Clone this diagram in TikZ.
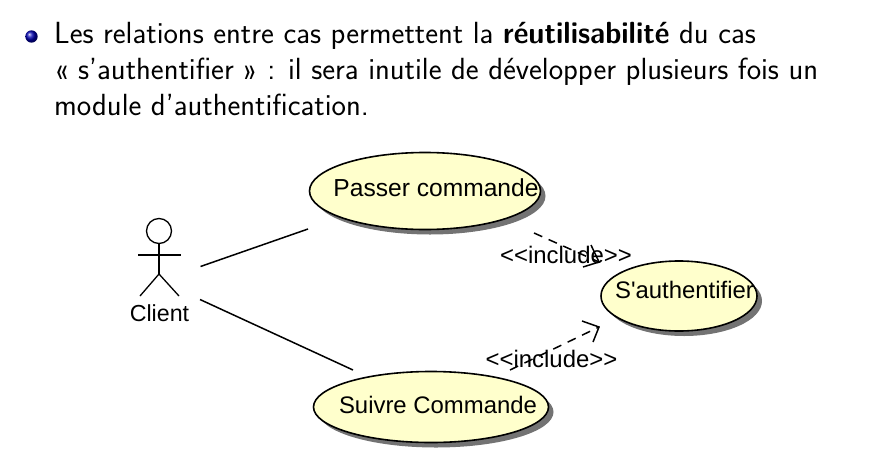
\documentclass[tikz,border=0pt]{standalone}
\usepackage{fontspec}
\newfontfamily\umlfont{Liberation Sans}
\usetikzlibrary{shapes.geometric,shadows,arrows.meta}
\definecolor{ucfill}{RGB}{255,255,204}
\tikzset{
  px/.style={x=1pt,y=-1pt},
  body/.style={anchor=base west,inner sep=0pt,font=\fontsize{30.6}{34}\sffamily},
  usecase/.style={ellipse,draw=black,line width=1.6pt,fill=ucfill,inner sep=0pt,
    drop shadow={shadow xshift=5pt,shadow yshift=-5pt,fill=black!55,opacity=1}},
  umltext/.style={inner sep=0pt,font=\fontsize{23.9}{28}\umlfont},
  assoc/.style={draw=black,line width=1.5pt},
  incl/.style={draw=black,line width=1.5pt,dash pattern=on 9pt off 7pt},
  inclhead/.style={draw=black,line width=1.5pt},
  limb/.style={draw=black,line width=1.3pt}
}
\begin{document}
\begin{tikzpicture}[px]
\useasboundingbox (0,0) rectangle (877,471);
\shade[ball color=blue!70!black] (31.5,36.5) circle (6.2);
\node[body] (l1) at (54,43) {Les relations entre cas permettent la \scalebox{0.937}[1]{\textbf{réutilisabilité}} du cas};
\node[body] (l2) at (54,79) {« s'authentifier » : il sera inutile de développer plusieurs fois un};
\node[body] (l3) at (54,115) {module d'authentification.};

\node[usecase,minimum width=231pt,minimum height=77pt] (pc) at (425,191) {};
\node[usecase,minimum width=235pt,minimum height=71pt] (sc) at (431,407) {};
\node[usecase,minimum width=156pt,minimum height=70pt] (sa) at (679,296) {};
\node[umltext,font=\fontsize{24.6}{28}\umlfont] (pct) at (436,188) {Passer commande};
\node[umltext] (sct) at (438,405) {Suivre Commande};
\node[umltext] (sat) at (684.5,290) {S'authentifier};

% actor
\node[circle,draw=black,line width=1.3pt,minimum size=25pt,inner sep=0pt] (head) at (159,231) {};
\coordinate (armL) at (138,255);
\coordinate (armR) at (181,255);
\coordinate (hip) at (159,274);
\coordinate (legL) at (140,296);
\coordinate (legR) at (179,296);
\draw[limb] (head.south) -- (hip);
\draw[limb] (armL) -- (armR);
\draw[limb] (legL) -- (hip) -- (legR);
\node[umltext,font=\fontsize{23.2}{26}\umlfont] (client) at (159.5,313) {Client};

% associations
\coordinate (a1s) at (200.5,266.5);
\coordinate (a1e) at (308,229);
\coordinate (a2s) at (200,299.5);
\coordinate (a2e) at (353,370);
\draw[assoc] (a1s) -- (a1e);
\draw[assoc] (a2s) -- (a2e);

% include 1
\coordinate (i1s) at (534,233);
\coordinate (i1e) at (599,262);
\coordinate (i1a) at (591,245);
\coordinate (i1b) at (583,267);
\draw[incl] (i1s) -- (i1e);
\draw[inclhead] (i1a) -- (i1e) -- (i1b);
% include 2
\coordinate (i2s) at (510,370);
\coordinate (i2e) at (599,327);
\coordinate (i2a) at (582,321);
\coordinate (i2b) at (593,342);
\draw[incl] (i2s) -- (i2e);
\draw[inclhead] (i2a) -- (i2e) -- (i2b);

\node[umltext] (il1) at (566,255) {<<include>>};
\node[umltext] (il2) at (551.5,359) {<<include>>};
\end{tikzpicture}
\end{document}
